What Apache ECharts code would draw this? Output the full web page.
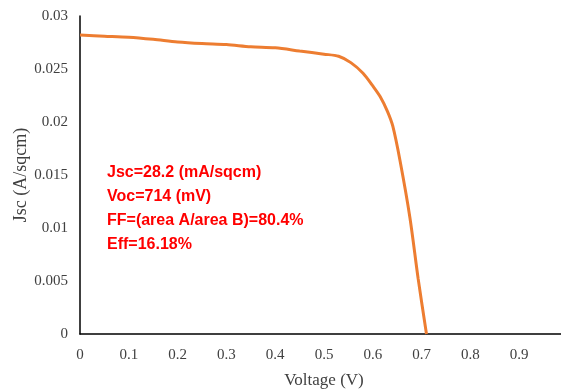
<!DOCTYPE html>
<html>
<head>
<meta charset="utf-8">
<script src="https://cdn.jsdelivr.net/npm/echarts@6/dist/echarts.min.js"></script>
<style>html,body{margin:0;padding:0;background:#fff;overflow:hidden}#c{width:580px;height:391px}</style>
</head>
<body>
<div id="c"></div>
<script>
const voltage = [0, 0.05, 0.1, 0.15, 0.2, 0.25, 0.3, 0.35, 0.4, 0.45, 0.5, 0.53, 0.555, 0.58, 0.6, 0.615, 0.63, 0.641, 0.656, 0.676, 0.693, 0.71];
const jsc = [0.0282, 0.0281, 0.0280, 0.0278, 0.02755, 0.0274, 0.0273, 0.0271, 0.0270, 0.0267, 0.0264, 0.0262, 0.0256, 0.0246, 0.0234, 0.0224, 0.0210, 0.0196, 0.0163, 0.0110, 0.0052, 0];
const annotationLines = ["Jsc=28.2 (mA/sqcm)", "Voc=714 (mV)", "FF=(area A/area B)=80.4%", "Eff=16.18%"];
const xAxisTitle = "Voltage (V)";
const yAxisTitle = "Jsc (A/sqcm)";

const chart = echarts.init(document.getElementById('c'));
const serif = '"Liberation Serif", "Times New Roman", serif';
chart.setOption({
  animation: false,
  grid: { left: 80, top: 16, bottom: 57, right: 12, containLabel: false, outerBoundsMode: 'none' },
  xAxis: {
    type: 'value', min: 0, max: 1, interval: 0.1,
    axisLine: { show: true, lineStyle: { color: '#000', width: 1.5 } },
    axisTick: { show: false },
    splitLine: { show: false },
    axisLabel: { color: '#404040', fontFamily: serif, fontSize: 15, margin: 14,
      formatter: v => v === 0 ? '0' : (v >= 1 ? '' : String(+v.toFixed(1))) },
    name: xAxisTitle, nameLocation: 'middle', nameGap: 38, nameMoveOverlap: false,
    nameTextStyle: { color: '#404040', fontFamily: serif, fontSize: 17 }
  },
  yAxis: {
    type: 'value', min: 0, max: 0.03, interval: 0.005,
    axisLine: { show: true, lineStyle: { color: '#000', width: 1.5 } },
    axisTick: { show: false },
    splitLine: { show: false },
    axisLabel: { color: '#404040', fontFamily: serif, fontSize: 15, margin: 12,
      formatter: v => v === 0 ? '0' : String(+v.toFixed(3)) },
    name: yAxisTitle, nameLocation: 'middle', nameGap: 50, nameRotate: 90, nameMoveOverlap: false,
    nameTextStyle: { color: '#404040', fontFamily: serif, fontSize: 18 }
  },
  series: [{
    type: 'line',
    data: voltage.map((v, i) => [v, jsc[i]]),
    smooth: 0.3,
    showSymbol: false,
    lineStyle: { color: '#ED7D31', width: 3 }
  }],
  graphic: annotationLines.map((t, i) => ({
    type: 'text', left: 107, top: 165 + i * 23.8,
    style: { text: t, fill: '#FF0000', font: 'bold 16px "Liberation Sans", sans-serif' }
  }))
});
</script>
</body>
</html>
